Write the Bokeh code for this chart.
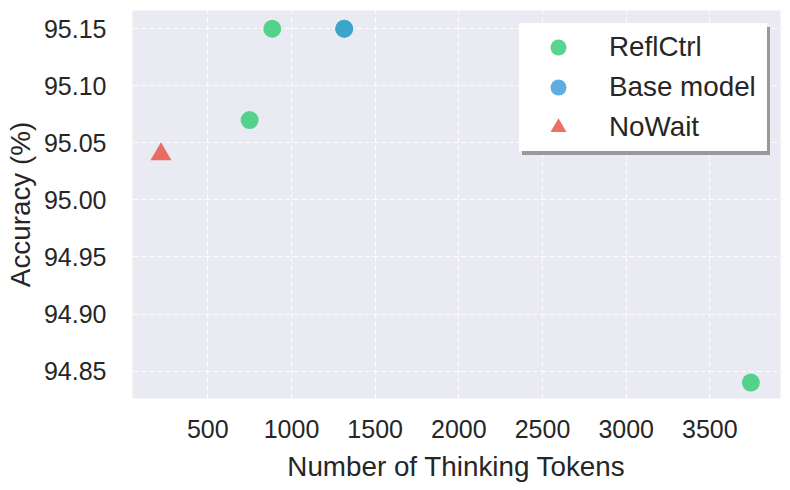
from bokeh.plotting import figure
from bokeh.models import Legend, LegendItem, Range1d, ColumnDataSource, FixedTicker
from bokeh.embed import file_html
from bokeh.resources import INLINE

# ---- data ----
refl_tokens = [3745, 885, 750, 1315]
refl_acc = [94.84, 95.15, 95.07, 95.15]
base_tokens = [1315]
base_acc = [95.15]
nowait_tokens = [220]
nowait_acc = [95.04]
x_ticks = [500, 1000, 1500, 2000, 2500, 3000, 3500]
y_ticks = [94.85, 94.90, 94.95, 95.00, 95.05, 95.10, 95.15]
legend_labels = ["ReflCtrl", "Base model", "NoWait"]

FONT = "Liberation Sans"
TXT = "#262626"

p = figure(width=790, height=490, output_backend="svg", toolbar_location=None,
           x_range=Range1d(50, 3922), y_range=Range1d(94.826, 95.166),
           min_border_left=132, min_border_right=10, min_border_top=10, min_border_bottom=92)

p.background_fill_color = "#EAEAF2"
p.border_fill_color = "white"
p.outline_line_color = None

for g in (p.xgrid, p.ygrid):
    g.grid_line_color = "white"
    g.grid_line_width = 1
    g.grid_line_dash = "5 3"
    g.grid_line_alpha = 0.9

p.xaxis.ticker = FixedTicker(ticks=x_ticks)
p.yaxis.ticker = FixedTicker(ticks=y_ticks)
p.yaxis.major_label_overrides = {t: f"{t:.2f}" for t in y_ticks}

for ax in (p.xaxis, p.yaxis):
    ax.axis_line_color = None
    ax.major_tick_line_color = None
    ax.minor_tick_line_color = None
    ax.major_label_text_font = FONT
    ax.major_label_text_font_size = "25px"
    ax.major_label_text_color = TXT
    ax.axis_label_text_font = FONT
    ax.axis_label_text_font_size = "27.8px"
    ax.axis_label_text_font_style = "normal"
    ax.axis_label_text_color = TXT

p.xaxis.axis_label = "Number of Thinking Tokens"
p.yaxis.axis_label = "Accuracy (%)"
p.xaxis.major_label_standoff = 15
p.yaxis.major_label_standoff = 20
p.xaxis.axis_label_standoff = 10
p.yaxis.axis_label_standoff = 5

r_refl = p.scatter(refl_tokens, refl_acc, marker="circle", size=18,
                   fill_color="#2ecc71", fill_alpha=0.8, line_color=None)
r_base = p.scatter(base_tokens, base_acc, marker="circle", size=18,
                   fill_color="#3498db", fill_alpha=0.8, line_color=None)
r_now = p.scatter(nowait_tokens, nowait_acc, marker="triangle", size=21,
                  fill_color="#e74c3c", fill_alpha=0.8, line_color=None)

# shadow legend (invisible glyphs)
empty = ColumnDataSource(data=dict(x=[], y=[]))
dummy = p.scatter("x", "y", source=empty, size=1, alpha=0)


def style(leg, fill):
    leg.label_text_font = FONT
    leg.label_text_font_size = "27.8px"
    leg.label_text_color = TXT
    leg.padding = 4
    leg.spacing = 0
    leg.glyph_width = 70
    leg.glyph_height = 40
    leg.label_height = 40
    leg.label_width = 154
    leg.label_standoff = 16
    leg.border_line_color = fill
    leg.border_line_alpha = 0.0
    leg.background_fill_color = fill
    leg.background_fill_alpha = 1.0


shadow = Legend(items=[LegendItem(label=" ", renderers=[dummy]) for _ in legend_labels],
                location=(390, 243))
style(shadow, "#999999")
p.add_layout(shadow)

legend = Legend(items=[LegendItem(label=legend_labels[0], renderers=[r_refl]),
                       LegendItem(label=legend_labels[1], renderers=[r_base]),
                       LegendItem(label=legend_labels[2], renderers=[r_now])],
                location="top_right")
style(legend, "white")
legend.margin = 13
p.add_layout(legend)

open("out.html", "w").write(file_html(p, INLINE))
